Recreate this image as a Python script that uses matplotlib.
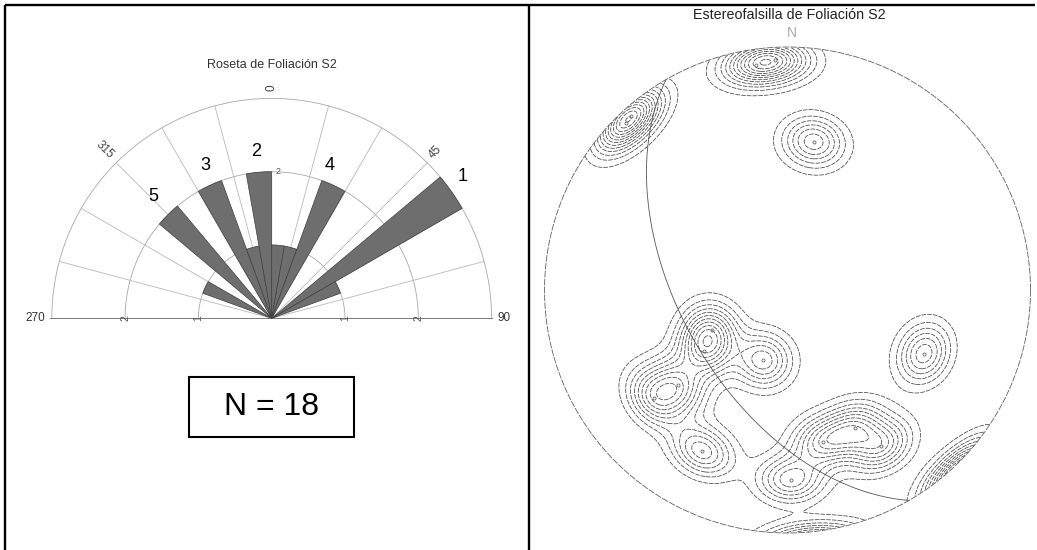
import numpy as np
import matplotlib.pyplot as plt
from matplotlib.patches import Wedge, Rectangle

plt.rcParams['font.family'] = ['Liberation Sans', 'DejaVu Sans']

# rose of S2 strikes: 10 degree bins (start azimuth) and counts
bin_start = [290, 310, 330, 340, 350, 0, 10, 20, 50, 60]
bin_count = [1, 2, 2, 1, 2, 1, 1, 2, 3, 1]
bin_width = 10
n_total = 18

# poles to S2 foliation (trend, plunge in degrees)
pole_trend = [352, 357, 316, 318, 10, 242, 234, 199, 229, 231, 208,
              179, 154, 167, 149, 115]
pole_plunge = [7, 6, 5, 4, 38, 61, 55, 65, 40, 30, 26,
               23, 37, 36, 26, 38]

# plane drawn on the net (right-hand rule strike / dip)
plane_strike = 150
plane_dip = 54

W, H = 1037, 550
fig = plt.figure(figsize=(W / 100, H / 100), dpi=100)

# page frame, labels and counter box in pixel units
frame = fig.add_axes([0, 0, 1, 1])
frame.set_xlim(0, W)
frame.set_ylim(H, 0)
frame.axis('off')
frame.plot([5, 1035], [5, 5], color='black', lw=1.7, solid_capstyle='butt')
frame.plot([5, 5], [5, H], color='black', lw=1.7, solid_capstyle='butt')
frame.plot([529, 529], [5, H], color='black', lw=1.7, solid_capstyle='butt')
frame.add_patch(Rectangle((188.5, 377), 165, 60, fill=False, ec='black', lw=1.5))
frame.text(271, 407, 'N = %d' % n_total, fontsize=23, ha='center', va='center')
frame.text(271.7, 65, 'Roseta de Foliación S2', fontsize=9, ha='center',
           va='center', color='#333333')
frame.text(789, 15, 'Estereofalsilla de Foliación S2', fontsize=10.3,
           ha='center', va='center', color='#222222')
frame.text(791.5, 33, 'N', fontsize=10, ha='center', va='center',
           color='#aaaaaa', fontweight='light')

# ---- rose diagram (half circle, 1 count = 73.3 px) ----
cx, cy, u = 271.7, 318.3, 73.3
rose = fig.add_axes([12 / W, (H - 340) / H, 508 / W, 300 / H])
rose.set_xlim((12 - cx) / u, (520 - cx) / u)
rose.set_ylim((cy - 340) / u, (cy - 40) / u)
rose.axis('off')

az = np.radians(np.linspace(-90, 90, 300))
for r in [1, 2, 3]:
    rose.plot(r * np.sin(az), r * np.cos(az), color='#a8a8a8', lw=0.6, zorder=1)
for a in [-75, -60, -45, -30, -15, 15, 30, 45, 60, 75]:
    t = np.radians(a)
    rose.plot([0, 3 * np.sin(t)], [0, 3 * np.cos(t)], color='#b8b8b8', lw=0.6, zorder=1)
rose.plot([-3.03, 3.0], [0, 0], color='#777777', lw=0.7, zorder=1)

for a0, c in zip(bin_start, bin_count):
    rose.add_patch(Wedge((0, 0), c, 90 - (a0 + bin_width), 90 - a0,
                         facecolor='#6e6e6e', edgecolor='#404040', lw=0.5, zorder=2))

for r in [1, 2]:
    for s in [-1, 1]:
        rose.text(s * r, 0, str(r), fontsize=7.5, rotation=90, ha='center',
                  va='center', color='#555555', zorder=3)
rose.text(0.08, 2.0, '2', fontsize=6.5, ha='center', va='center', color='#555555')
rose.text(0, 3.14, '0', fontsize=8.5, rotation=90, ha='center', va='center', color='#444444')
rose.text(-2.28, 2.30, '315', fontsize=8.5, rotation=-45, ha='center', va='center', color='#444444')
rose.text(2.23, 2.27, '45', fontsize=8.5, rotation=45, ha='center', va='center', color='#444444')
rose.text(-3.23, 0, '270', fontsize=8.5, ha='center', va='center', color='#333333')
rose.text(3.17, 0, '90', fontsize=8.5, ha='center', va='center', color='#333333')

petal_text = ['1', '2', '3', '4', '5']
petal_xy = [(2.61, 1.93), (-0.214, 2.27), (-0.91, 2.09), (0.795, 2.09), (-1.62, 1.655)]
for t, (x, y) in zip(petal_text, petal_xy):
    rose.text(x, y, t, fontsize=13, ha='center', va='center', color='black')

# ---- equal-area net, lower hemisphere ----
sx, sy, R = 787.5, 290.0, 243.0
net = fig.add_axes([535 / W, 5 / H, 502 / W, 505 / H])
net.set_xlim((535 - sx) / R, (1037 - sx) / R)
net.set_ylim((sy - 545) / R, (sy - 40) / R)
net.axis('off')


def unit_vec(trend, plunge):
    t, p = np.radians(trend), np.radians(plunge)
    return np.stack([np.cos(p) * np.sin(t), np.cos(p) * np.cos(t), np.sin(p)], axis=-1)


def project(v):
    v = np.where(v[..., 2:3] < 0, -v, v)
    plunge = np.arcsin(np.clip(v[..., 2], -1, 1))
    trend = np.arctan2(v[..., 0], v[..., 1])
    rho = np.sqrt(2) * np.sin((np.pi / 2 - plunge) / 2)
    return rho * np.sin(trend), rho * np.cos(trend)


# primitive circle
th = np.linspace(0, 2 * np.pi, 400)
net.plot(np.cos(th), np.sin(th), color='#606060', lw=0.6, ls=(0, (8, 1.5)))

# density grid
g = np.linspace(-1, 1, 501)
gx, gy = np.meshgrid(g, g)
rho = np.hypot(gx, gy)
inside = rho <= 1.0
theta = 2 * np.arcsin(np.clip(rho / np.sqrt(2), 0, 1))
gtrend = np.degrees(np.arctan2(gx, gy))
gplunge = 90 - np.degrees(theta)
gv = unit_vec(gtrend, gplunge)
poles = unit_vec(np.array(pole_trend), np.array(pole_plunge))
k = 86.0
dens = np.zeros_like(gx)
for p in poles:
    dens += np.exp(k * (np.abs(gv @ p) - 1))
dens[~inside] = np.nan

levels = np.arange(1, 25) * 0.15
net.contour(gx, gy, dens, levels=levels, colors='#454545', linewidths=0.55,
            linestyles=[(0, (6, 1.5))])

px, py = project(poles)
net.plot(px, py, 'o', ms=2.2, mfc='none', mec='#666666', mew=0.6)

# great circle of the plane
dd = np.radians(plane_strike + 90)
st = np.radians(plane_strike)
dip = np.radians(plane_dip)
s_vec = np.array([np.sin(st), np.cos(st), 0.0])
d_vec = np.array([np.cos(dip) * np.sin(dd), np.cos(dip) * np.cos(dd), np.sin(dip)])
phi = np.linspace(0, np.pi, 200)[:, None]
gc = np.cos(phi) * s_vec + np.sin(phi) * d_vec
gcx, gcy = project(gc)
net.plot(gcx, gcy, color='#555555', lw=0.6)

fig.savefig('out.png', dpi=100)
